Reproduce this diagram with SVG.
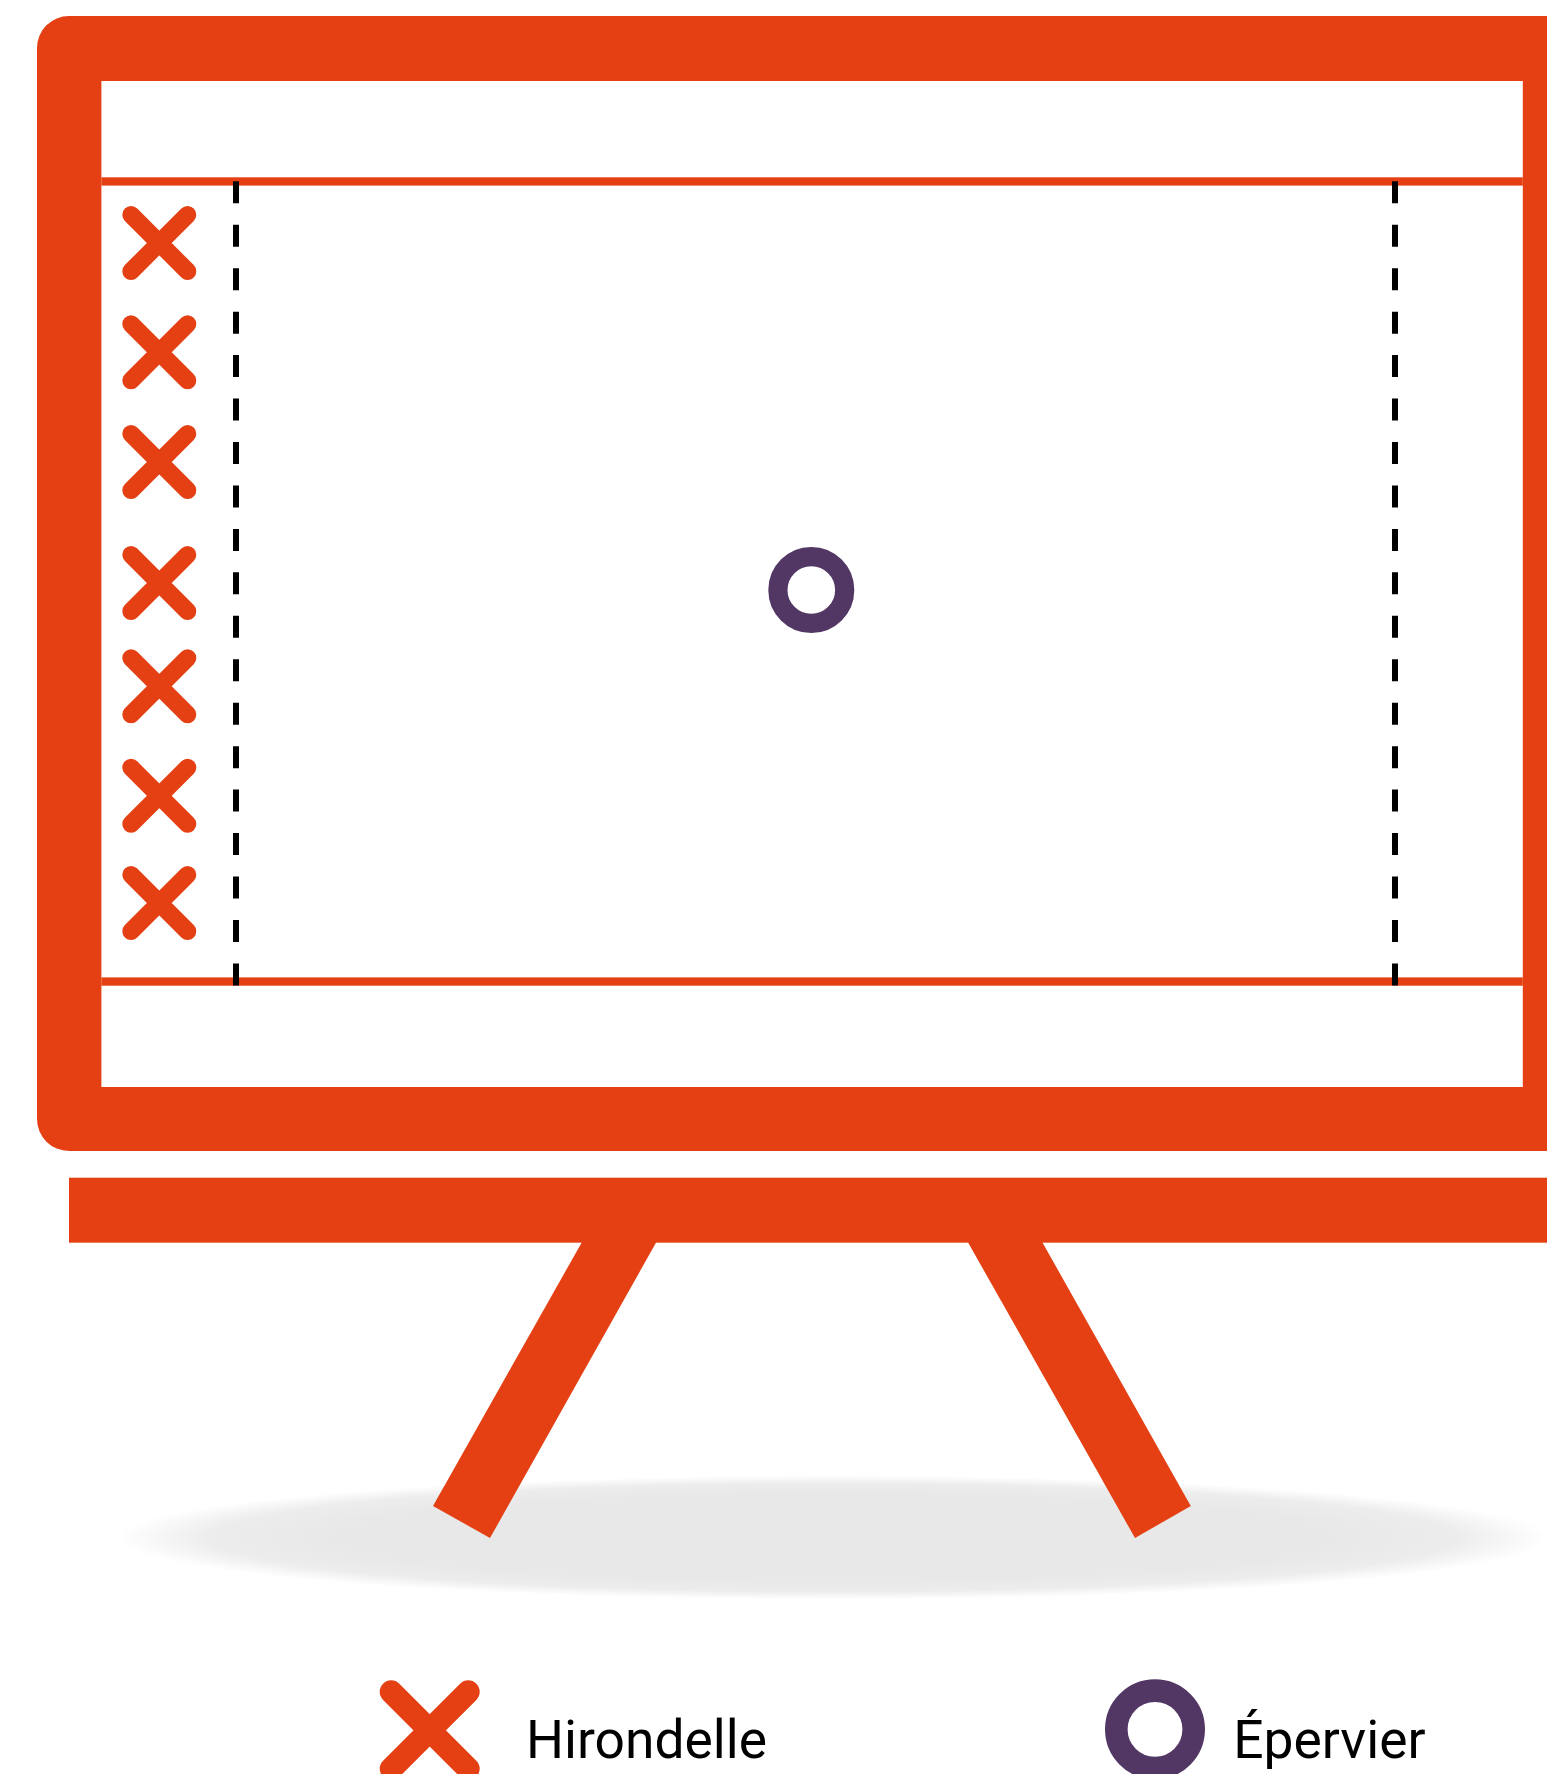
<svg xmlns="http://www.w3.org/2000/svg" width="1547" height="1774" viewBox="0 0 1547 1774">
<style>
.o{fill:#e44013}
.x{fill:none;stroke:#e44013;stroke-width:17.5;stroke-linecap:round}
.d{fill:none;stroke:#000;stroke-width:6;stroke-dasharray:22 21.45}
.t{font-family:Roboto,"Liberation Sans",sans-serif;font-size:53.33px;fill:#000}
</style>
<defs>
<radialGradient id="g"><stop offset="0.7" stop-color="#e8e8e8"/><stop offset="0.87" stop-color="#e8e8e8" stop-opacity="0.8"/><stop offset="1" stop-color="#e8e8e8" stop-opacity="0"/></radialGradient>
<path id="m" class="x" d="M-28.25-28.25L28.25 28.25M28.25-28.25L-28.25 28.25"/>
</defs>
<rect width="1547" height="1774" fill="#fff"/>
<ellipse id="shadow" cx="833" cy="1537.5" rx="716" ry="62" fill="url(#g)"/>
<g id="board">
<path class="o" fill-rule="evenodd" d="M69 16H1547V1151H69A32 32 0 0 1 37 1119V48A32 32 0 0 1 69 16ZM101.4 81V1087H1522.8V81Z"/>
<rect class="o" x="101.4" y="177.3" width="1421.4" height="8.3"/>
<rect class="o" x="101.4" y="977.4" width="1421.4" height="8.3"/>
</g>
<g id="stand">
<rect class="o" x="69" y="1177.7" width="1478" height="65"/>
<polygon class="o" points="582,1242 656.4,1242 490,1538 433,1506"/>
<polygon class="o" points="967.8,1242 1042.2,1242 1190.8,1506 1135,1538"/>
</g>
<g id="connectors">
<path class="d" d="M236 181.3V986"/>
<path class="d" d="M1395 181.3V986"/>
</g>
<g id="hirondelles">
<use id="x1" href="#m" x="159.3" y="243"/>
<use id="x2" href="#m" x="159.3" y="352.3"/>
<use id="x3" href="#m" x="159.3" y="462"/>
<use id="x4" href="#m" x="159.3" y="583"/>
<use id="x5" href="#m" x="159.3" y="686.3"/>
<use id="x6" href="#m" x="159.3" y="795.8"/>
<use id="x7" href="#m" x="159.3" y="903"/>
</g>
<g id="epervier"><circle cx="811.3" cy="590" r="33.4" fill="#fff" stroke="#523664" stroke-width="19.2"/></g>
<g id="legend-hirondelle">
<path d="M391.2 1691.8L468.2 1768.8M468.2 1691.8L391.2 1768.8" fill="none" stroke="#e44013" stroke-width="23" stroke-linecap="round"/>
<text class="t" x="526" y="1757.5">Hirondelle</text>
</g>
<g id="legend-epervier">
<circle cx="1155" cy="1729.3" r="38.7" fill="#fff" stroke="#523664" stroke-width="22.6"/>
<text class="t" x="1233.3" y="1757.5">Épervier</text>
</g>
</svg>
